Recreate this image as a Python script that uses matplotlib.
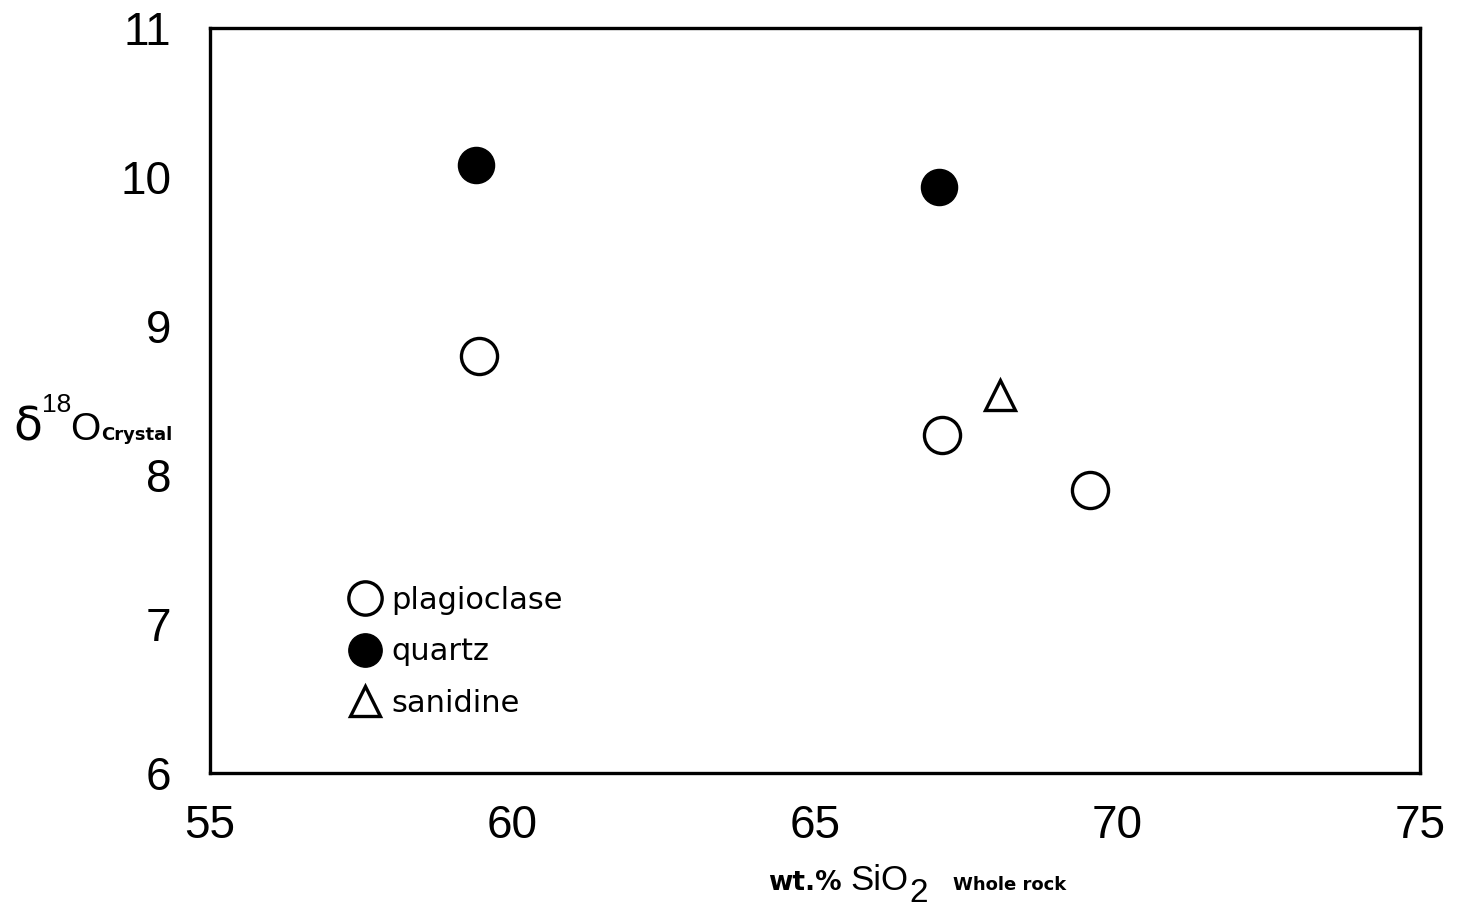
import matplotlib
matplotlib.use('Agg')
import matplotlib.pyplot as plt
from matplotlib.lines import Line2D

# data
plag_sio2 = [59.45, 67.1, 69.55]
plag_d18o = [8.80, 8.27, 7.90]
qtz_sio2 = [59.4, 67.05]
qtz_d18o = [10.08, 9.93]
san_sio2 = [68.05]
san_d18o = [8.54]

x_ticks = [55, 60, 65, 70, 75]
y_ticks = [6, 7, 8, 9, 10, 11]

W, H = 1459, 914
fig = plt.figure(figsize=(W / 100, H / 100), dpi=100)
ax = fig.add_axes([210 / W, 1 - 773 / H, 1210 / W, 745 / H])

ax.plot(plag_sio2, plag_d18o, 'o', ms=26, mfc='white', mec='black', mew=2.4, ls='none')
ax.plot(qtz_sio2, qtz_d18o, 'o', ms=26, mfc='black', mec='black', ls='none')
ax.plot(san_sio2, san_d18o, '^', ms=22, mfc='white', mec='black', mew=2.4, ls='none')

ax.set_xlim(55, 75)
ax.set_ylim(6, 11)
ax.set_xticks(x_ticks)
ax.set_yticks(y_ticks)
ax.tick_params(length=0, labelsize=33)
ax.tick_params(axis='y', pad=28)
ax.tick_params(axis='x', pad=22)
for lab in ax.get_xticklabels() + ax.get_yticklabels():
    lab.set_fontfamily('Liberation Sans')
for sp in ax.spines.values():
    sp.set_linewidth(2.4)

handles = [
    Line2D([], [], marker='o', ls='none', ms=24, mfc='white', mec='black', mew=2.4),
    Line2D([], [], marker='o', ls='none', ms=24, mfc='black', mec='black'),
    Line2D([], [], marker='^', ls='none', ms=21, mfc='white', mec='black', mew=2.4),
]
ax.legend(handles, ['plagioclase', 'quartz', 'sanidine'], loc='upper left',
          bbox_to_anchor=(0.103, 0.272), frameon=False, fontsize=22,
          handlelength=1.0, handletextpad=0.35, labelspacing=0.74, borderpad=0)


def ftext(x, y, s, **kw):
    fig.text(x / W, 1 - y / H, s, va='baseline', ha='left', **kw)


# y label: delta 18 O crystal
ftext(13, 440, 'δ', fontsize=34)
ftext(42, 412, '18', fontsize=19, family='Liberation Sans')
ftext(70, 440, 'O', fontsize=28, family='Liberation Sans')
ftext(101, 440, 'Crystal', fontsize=13, fontweight='bold')

# x label: wt.% SiO2 whole rock
ftext(768, 890, 'wt.%', fontsize=19, fontweight='bold')
ftext(850, 890, 'SiO', fontsize=25, family='Liberation Sans')
ftext(909, 902, '2', fontsize=24, family='Liberation Sans')
ftext(953, 890, 'Whole rock', fontsize=13, fontweight='bold')

plt.savefig('out.png', dpi=100)
